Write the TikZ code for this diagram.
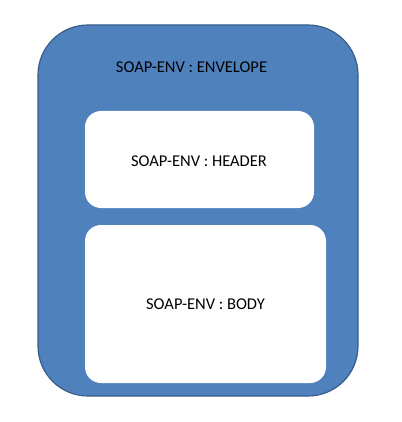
\documentclass[tikz,border=0pt]{standalone}
\usepackage{fontspec}
\setmainfont{Carlito}
\usetikzlibrary{positioning}
\definecolor{soapblue}{HTML}{4F81BD}
\definecolor{soapedge}{HTML}{385D8A}
\tikzset{envelope/.style={fill=soapblue,draw=soapedge,line width=1.2pt,rounded corners=50pt}}
\tikzset{part/.style={fill=white,rounded corners=16pt}}
\tikzset{lbl/.style={font=\fontsize{16.5}{19}\selectfont,text=black,anchor=base,inner sep=0pt}}

\begin{document}
\begin{tikzpicture}[x=1pt,y=-1pt]
    \useasboundingbox (0,0) rectangle (401,422);
    \draw [envelope] (38,25) rectangle (358,396);
    \fill [part] (85,111) rectangle (314,208);
    \fill [part] (85,225) rectangle (326,383);
    \node [lbl] (env) at (191.5,73) {SOAP-ENV : ENVELOPE};
    \node [lbl] (head) at (199,166) {SOAP-ENV : HEADER};
    \node [lbl] (body) at (205.5,309) {SOAP-ENV : BODY};
\end{tikzpicture}
\end{document}
